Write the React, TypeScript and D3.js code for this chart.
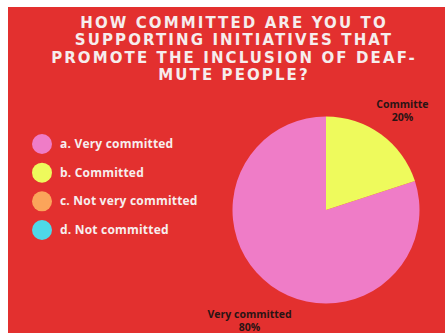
import React from "react";
import * as d3 from "d3";

const titleLines = [
  "HOW COMMITTED ARE YOU TO",
  "SUPPORTING INITIATIVES THAT",
  "PROMOTE THE INCLUSION OF DEAF-",
  "MUTE PEOPLE?",
];
const categories = ["a. Very committed", "b. Committed", "c. Not very committed", "d. Not committed"];
const sliceLabels = ["Very committed", "Committe", "Not very committed", "Not committed"];
const values = [80, 20, 0, 0];
const colors = ["#ef7cc7", "#eefa5c", "#fba45a", "#4ed8e8"];

const W = 445;
const H = 333;
const cx = 326;
const cy = 210;
const R = 93.5;

export default function App() {
  const total = d3.sum(values);
  const pie = d3
    .pie<number>()
    .sort(null)
    .value((d) => d)
    .startAngle(Math.PI * 2 * 0.2)
    .endAngle(Math.PI * 2 * 1.2);
  const arcs = pie(values);
  const arc = d3.arc<d3.PieArcDatum<number>>().innerRadius(0).outerRadius(R);
  const labelArc = d3.arc<d3.PieArcDatum<number>>().innerRadius(130).outerRadius(130);
  const legendY = d3.scalePoint<string>().domain(categories).range([144, 230]);

  return (
    <svg
      width={W}
      height={H}
      style={{ position: "absolute", left: 0, top: 0, display: "block" }}
    >
      <rect x={8} y={7} width={W - 8} height={H - 7} fill="#e3302f" />
      {titleLines.map((t, i) => (
        <text
          key={i}
          x={233 + 1}
          y={28 + i * 17.4}
          textAnchor="middle"
          fill="#f6eded"
          fontFamily="DejaVu Sans"
          fontWeight="bold"
          fontSize={15}
          letterSpacing={2.1}
        >
          {t}
        </text>
      ))}
      {categories.map((c, i) => (
        <g key={c}>
          <circle cx={42} cy={legendY(c)} r={10} fill={colors[i]} />
          <text
            x={60}
            y={(legendY(c) as number) + 4}
            fill="#f7eeee"
            fontFamily="Open Sans"
            fontWeight="bold"
            fontSize={12}
            letterSpacing={0.2}
          >
            {c}
          </text>
        </g>
      ))}
      <g transform={`translate(${cx},${cy})`}>
        {arcs.map((a, i) =>
          a.value > 0 ? <path key={i} d={arc(a) as string} fill={colors[i]} /> : null
        )}
        {arcs.map((a, i) => {
          if (a.value <= 0) return null;
          const [lx, ly] = labelArc.centroid(a);
          return (
            <g key={"l" + i} fontFamily="Open Sans" fontWeight="bold" fontSize={10.5} fill="#2a1414" textAnchor="middle">
              <text x={lx} y={ly + 3}>{sliceLabels[i]}</text>
              <text x={lx} y={ly + 16}>{`${Math.round((a.value / total) * 100)}%`}</text>
            </g>
          );
        })}
      </g>
    </svg>
  );
}
